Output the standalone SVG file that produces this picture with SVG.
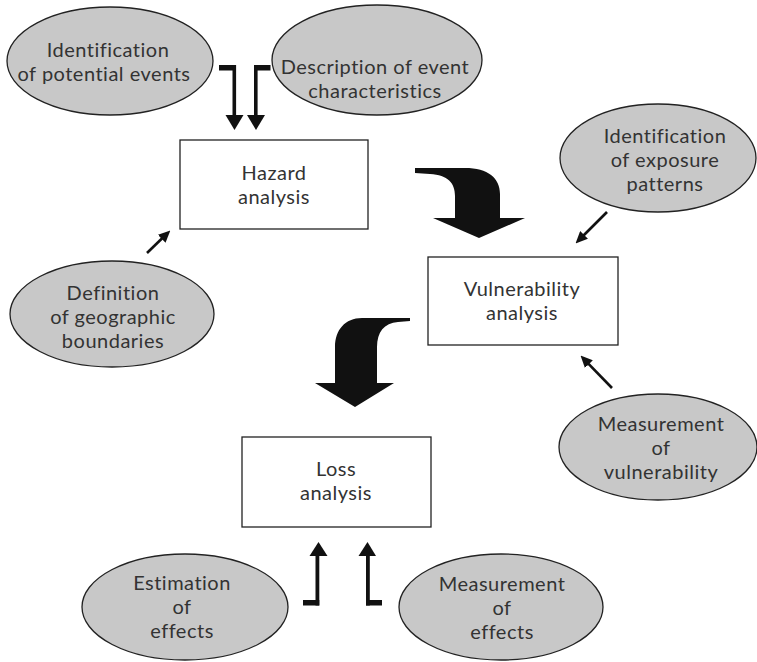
<svg xmlns="http://www.w3.org/2000/svg" width="757" height="662" viewBox="0 0 757 662">
<style>
.ell{fill:#c8c8c8;stroke:#222;stroke-width:1.3}
.box{fill:#fff;stroke:#222;stroke-width:1.3}
.t{font-family:Lato,"Open Sans",sans-serif;font-size:20px;letter-spacing:0.5px;fill:#333;text-anchor:middle}
.blk{fill:#111;stroke:none}
.ln{stroke:#111;stroke-width:2.6;fill:none}
</style>
<defs>
<marker id="ah" viewBox="0 0 12 11" refX="5" refY="5.5" markerWidth="12" markerHeight="11" markerUnits="userSpaceOnUse" orient="auto">
<path d="M0,0 L12,5.5 L0,11 Z" fill="#111"/>
</marker>
</defs>
<rect width="757" height="662" fill="#fff"/>

<g id="n-ident-events">
<ellipse class="ell" cx="110" cy="61" rx="103" ry="54"/>
<text class="t" x="108" y="57">Identification</text>
<text class="t" x="104" y="81">of potential events</text>
</g>
<g id="n-desc-events">
<ellipse class="ell" cx="377" cy="60" rx="105" ry="55"/>
<text class="t" x="375" y="74">Description of event</text>
<text class="t" x="375" y="98">characteristics</text>
</g>
<g id="n-hazard">
<rect class="box" x="180" y="140" width="188" height="89"/>
<text class="t" x="274" y="180">Hazard</text>
<text class="t" x="274" y="204">analysis</text>
</g>
<g id="n-ident-exposure">
<ellipse class="ell" cx="658" cy="158" rx="98" ry="54"/>
<text class="t" x="665" y="143">Identification</text>
<text class="t" x="665" y="167">of exposure</text>
<text class="t" x="665" y="191">patterns</text>
</g>
<g id="n-definition">
<ellipse class="ell" cx="112" cy="314" rx="102" ry="53"/>
<text class="t" x="113" y="300">Definition</text>
<text class="t" x="113" y="324">of geographic</text>
<text class="t" x="113" y="348">boundaries</text>
</g>
<g id="n-vulnerability">
<rect class="box" x="428" y="257" width="190" height="88"/>
<text class="t" x="522" y="296">Vulnerability</text>
<text class="t" x="522" y="320">analysis</text>
</g>
<g id="n-meas-vuln">
<ellipse class="ell" cx="658" cy="447" rx="99" ry="53"/>
<text class="t" x="661" y="431">Measurement</text>
<text class="t" x="661" y="455">of</text>
<text class="t" x="661" y="479">vulnerability</text>
</g>
<g id="n-loss">
<rect class="box" x="242" y="437" width="189" height="90"/>
<text class="t" x="336" y="476">Loss</text>
<text class="t" x="336" y="500">analysis</text>
</g>
<g id="n-estimation">
<ellipse class="ell" cx="185" cy="607" rx="103" ry="53"/>
<text class="t" x="182" y="590">Estimation</text>
<text class="t" x="182" y="614">of</text>
<text class="t" x="182" y="638">effects</text>
</g>
<g id="n-meas-effects">
<ellipse class="ell" cx="501" cy="607" rx="102" ry="53"/>
<text class="t" x="502" y="591">Measurement</text>
<text class="t" x="502" y="615">of</text>
<text class="t" x="502" y="639">effects</text>
</g>

<g id="connectors">
<rect class="blk" x="219" y="65" width="17" height="5.5"/>
<rect class="blk" x="232.5" y="65" width="3.6" height="51"/>
<polygon class="blk" points="225.5,115 243.5,115 234.5,130"/>
<rect class="blk" x="254" y="65" width="16.5" height="5.5"/>
<rect class="blk" x="254" y="65" width="3.6" height="51"/>
<polygon class="blk" points="247,115 265,115 256,130"/>
<path class="blk" d="M415,168 L465,168 C488,168 500,178 500,194 L500,218 L525,218 L479,238 L433,218 L455,218 L455,196 C455,183 448,175 430,174 L415,173 Z"/>
<path class="blk" d="M410,318 L362,318 C345,318 335,330 335,347 L335,383 L315,383 L355,407 L394,383 L377,383 L377,347 C377,332 384,323 398,322 L410,321 Z"/>
<line class="ln" x1="147" y1="253" x2="165.3" y2="235.3" marker-end="url(#ah)"/>
<line class="ln" x1="607" y1="212" x2="580.5" y2="238.5" marker-end="url(#ah)"/>
<line class="ln" x1="612" y1="388" x2="585.4" y2="360.6" marker-end="url(#ah)"/>
<rect class="blk" x="303" y="600" width="16.3" height="5.5"/>
<rect class="blk" x="315.5" y="554" width="3.8" height="51.5"/>
<polygon class="blk" points="309.5,556 327.5,556 318.5,542"/>
<rect class="blk" x="366" y="600" width="16" height="5.5"/>
<rect class="blk" x="366" y="554" width="3.8" height="51.5"/>
<polygon class="blk" points="358.5,556 376,556 367.5,542"/>
</g>
</svg>
